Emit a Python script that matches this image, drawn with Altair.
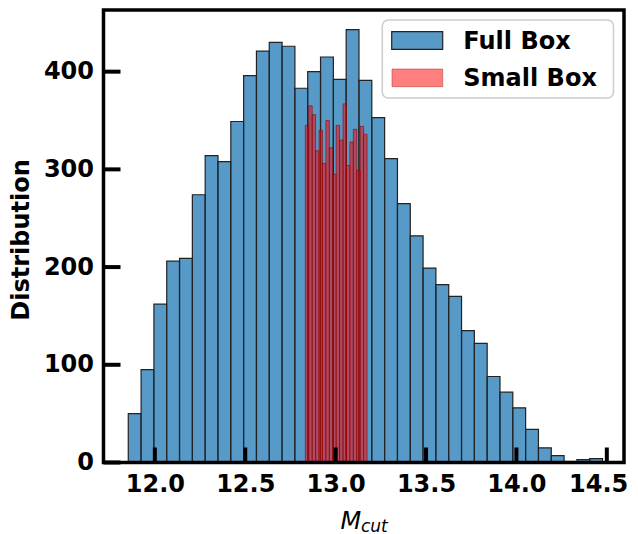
import altair as alt
import pandas as pd

# ---- data ----
full_start = 11.853
full_width = 0.0709
full_counts = [50, 95, 162, 206, 209, 274, 314, 308, 349, 396, 421, 430, 426,
               383, 400, 415, 392, 443, 391, 353, 311, 265, 232, 199, 182, 170,
               135, 122, 88, 72, 56, 34, 15, 7, 1, 3, 4]

small_start = 12.8324
small_width = 0.01896
small_counts = [345, 365, 356, 319, 340, 306, 350, 322, 295, 345, 330, 367,
                304, 328, 341, 299, 344, 336]

x_ticks = [12.0, 12.5, 13.0, 13.5, 14.0, 14.5]
y_ticks = [0, 100, 200, 300, 400]
legend_labels = ["Full Box", "Small Box"]

# ---- layout ----
W, H = 520.5, 452.5
FONT = "DejaVu Sans"

full_df = pd.DataFrame({
    "lo": [full_start + i * full_width for i in range(len(full_counts))],
    "hi": [full_start + (i + 1) * full_width for i in range(len(full_counts))],
    "count": full_counts,
})
small_df = pd.DataFrame({
    "lo": [small_start + i * small_width for i in range(len(small_counts))],
    "hi": [small_start + (i + 1) * small_width for i in range(len(small_counts))],
    "count": small_counts,
})

xscale = alt.Scale(domain=[11.716, 14.595], nice=False, zero=False)
yscale = alt.Scale(domain=[0, 463.1], nice=False)

x_axis = alt.Axis(
    values=x_ticks, format=".1f", tickSize=0, domain=False, grid=False,
    labelFont=FONT, labelFontWeight="bold", labelFontSize=24,
    labelColor="black", labelPadding=10, labelFlush=20, labelFlushOffset=21,
    title="")
y_axis = alt.Axis(
    values=y_ticks, format="d", tickSize=0, domain=False, grid=False,
    labelFont=FONT, labelFontWeight="bold", labelFontSize=24,
    labelColor="black", labelPadding=10,
    title="Distribution", titleFont=FONT, titleFontWeight="bold",
    titleFontSize=24, titleColor="black", titleAngle=270,
    titleX=-82, titleY=229.5, titleAlign="center", titleBaseline="middle")

full = alt.Chart(full_df).mark_rect(
    fill="#1f77b4", fillOpacity=0.75, stroke="#222222", strokeWidth=1.2
).encode(
    x=alt.X("lo:Q", scale=xscale, axis=x_axis),
    x2="hi:Q",
    y=alt.Y("count:Q", scale=yscale, axis=y_axis),
    y2=alt.datum(0),
)

small = alt.Chart(small_df).mark_rect(
    fill="#ff0000", fillOpacity=0.5, stroke="#8b0000", strokeWidth=0.8,
    strokeOpacity=0.75
).encode(
    x=alt.X("lo:Q", scale=xscale, axis=x_axis),
    x2="hi:Q",
    y=alt.Y("count:Q", scale=yscale, axis=y_axis),
    y2=alt.datum(0),
)

xt = alt.Chart(pd.DataFrame({"lo": x_ticks})).mark_rule(
    color="black", strokeWidth=4
).encode(
    x=alt.X("lo:Q", scale=xscale, axis=x_axis),
    y=alt.value(H), y2=alt.value(H - 15),
)

yt = alt.Chart(pd.DataFrame({"count": y_ticks})).mark_rule(
    color="black", strokeWidth=4
).encode(
    y=alt.Y("count:Q", scale=yscale, axis=y_axis),
    x=alt.value(0), x2=alt.value(17),
)

one = alt.Data(values=[{"k": 1}])

frame = alt.Chart(one).mark_rect(
    fillOpacity=0, stroke="black", strokeWidth=3.5
).encode(x=alt.value(0), x2=alt.value(W), y=alt.value(0), y2=alt.value(H))

leg_box = alt.Chart(one).mark_rect(
    fill="white", fillOpacity=0.8, stroke="#cccccc", strokeWidth=1.5,
    cornerRadius=6
).encode(x=alt.value(278.8), x2=alt.value(510), y=alt.value(10), y2=alt.value(88))

leg_blue = alt.Chart(one).mark_rect(
    fill="#1f77b4", fillOpacity=0.75, stroke="#222222", strokeWidth=1.2
).encode(x=alt.value(288.2), x2=alt.value(339.2), y=alt.value(21.7), y2=alt.value(39.3))

leg_red = alt.Chart(one).mark_rect(
    fill="#ff0000", fillOpacity=0.5, stroke="#b03030", strokeWidth=1,
    strokeOpacity=0.5
).encode(x=alt.value(288.5), x2=alt.value(339.2), y=alt.value(59), y2=alt.value(76.7))

leg_t1 = alt.Chart(one).mark_text(
    text=legend_labels[0], font=FONT, fontWeight="bold", fontSize=24,
    align="left", baseline="alphabetic", color="black"
).encode(x=alt.value(359.8), y=alt.value(39.3))

leg_t2 = alt.Chart(one).mark_text(
    text=legend_labels[1], font=FONT, fontWeight="bold", fontSize=24,
    align="left", baseline="alphabetic", color="black"
).encode(x=alt.value(359.8), y=alt.value(76))

xtitle_m = alt.Chart(one).mark_text(
    text="M", font=FONT, fontStyle="italic", fontSize=24,
    align="left", baseline="alphabetic", color="black"
).encode(x=alt.value(237), y=alt.value(518.5))

xtitle_sub = alt.Chart(one).mark_text(
    text="cut", font=FONT, fontStyle="italic", fontSize=17,
    align="left", baseline="alphabetic", color="black"
).encode(x=alt.value(257.5), y=alt.value(521.5))

chart = alt.layer(
    full, small, xt, yt, frame, leg_box, leg_blue, leg_red, leg_t1, leg_t2,
    xtitle_m, xtitle_sub
).properties(
    width=W, height=H,
    padding={"left": 95.5, "top": 2, "right": 6, "bottom": 71.5},
    autosize=alt.AutoSizeParams(type="none"),
).configure_view(stroke=None)

chart.save("out.html", embed_options={"renderer": "svg", "actions": False})
